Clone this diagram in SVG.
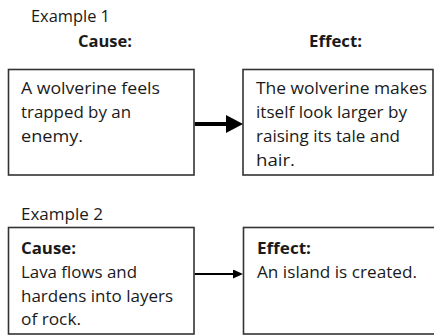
<svg xmlns="http://www.w3.org/2000/svg" width="434" height="336" viewBox="0 0 434 336">
<style>
  .box { fill: #ffffff; stroke: #333333; stroke-width: 1.6; }
  .t { font-family: "Open Sans", "Liberation Sans", sans-serif; font-size: 16px; fill: #1a1a1a; }
  .b { font-weight: bold; }
  .conn { stroke: #000000; fill: none; }
</style>
<defs>
  <marker id="headBig" markerUnits="userSpaceOnUse" markerWidth="17" markerHeight="18" refX="0" refY="9" orient="auto">
    <path d="M0,0 L17,9 L0,18 Z" fill="#000000"/>
  </marker>
  <marker id="headSmall" markerUnits="userSpaceOnUse" markerWidth="10" markerHeight="9" refX="0" refY="4.5" orient="auto">
    <path d="M0,0 L10,4.5 L0,9 Z" fill="#000000"/>
  </marker>
</defs>
<rect width="434" height="336" fill="#ffffff"/>

<g id="labels">
  <text class="t" x="31" y="22" textLength="79" lengthAdjust="spacingAndGlyphs">Example 1</text>
  <text class="t b" x="78" y="47" textLength="54" lengthAdjust="spacingAndGlyphs">Cause:</text>
  <text class="t b" x="309" y="47" textLength="53" lengthAdjust="spacingAndGlyphs">Effect:</text>
  <text class="t" x="21" y="220" textLength="82" lengthAdjust="spacingAndGlyphs">Example 2</text>
</g>

<g id="cause1">
  <rect class="box" x="8.5" y="69.5" width="185.5" height="105.5"/>
  <text class="t" x="21" y="94" textLength="139" lengthAdjust="spacingAndGlyphs">A wolverine feels</text>
  <text class="t" x="21" y="118" textLength="110" lengthAdjust="spacingAndGlyphs">trapped by an</text>
  <text class="t" x="21" y="142" textLength="62" lengthAdjust="spacingAndGlyphs">enemy.</text>
</g>

<g id="effect1">
  <rect class="box" x="243" y="69.5" width="190" height="105.5"/>
  <text class="t" x="256" y="94" textLength="171" lengthAdjust="spacingAndGlyphs">The wolverine makes</text>
  <text class="t" x="256" y="118" textLength="151" lengthAdjust="spacingAndGlyphs">itself look larger by</text>
  <text class="t" x="256" y="142" textLength="144" lengthAdjust="spacingAndGlyphs">raising its tale and</text>
  <text class="t" x="256" y="166" textLength="39" lengthAdjust="spacingAndGlyphs">hair.</text>
</g>

<g id="cause2">
  <rect class="box" x="8.5" y="227.5" width="185.5" height="106.5"/>
  <text class="t b" x="21" y="254" textLength="55" lengthAdjust="spacingAndGlyphs">Cause:</text>
  <text class="t" x="21" y="278" textLength="116" lengthAdjust="spacingAndGlyphs">Lava flows and</text>
  <text class="t" x="21" y="302" textLength="152" lengthAdjust="spacingAndGlyphs">hardens into layers</text>
  <text class="t" x="21" y="325" textLength="60" lengthAdjust="spacingAndGlyphs">of rock.</text>
</g>

<g id="effect2">
  <rect class="box" x="243.5" y="227.5" width="200" height="106.5"/>
  <text class="t b" x="257" y="254" textLength="54" lengthAdjust="spacingAndGlyphs">Effect:</text>
  <text class="t" x="257" y="278" textLength="160" lengthAdjust="spacingAndGlyphs">An island is created.</text>
</g>

<g id="connectors">
  <line class="conn" x1="194.8" y1="124" x2="226" y2="124" stroke-width="4" marker-end="url(#headBig)"/>
  <line class="conn" x1="194.8" y1="274" x2="233" y2="274" stroke-width="2" marker-end="url(#headSmall)"/>
</g>
</svg>
